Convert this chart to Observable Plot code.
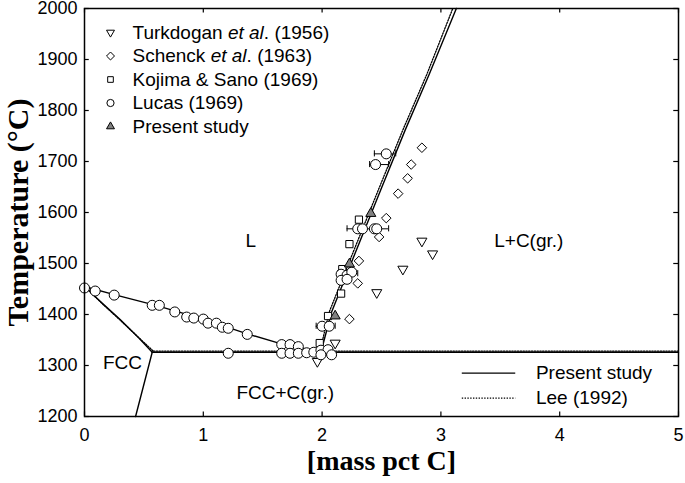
<!DOCTYPE html>
<html>
<head>
<meta charset="utf-8">
<script src="https://cdn.jsdelivr.net/npm/d3@7"></script>
<script src="https://cdn.jsdelivr.net/npm/@observablehq/plot@0.6"></script>
<style>
  html, body { margin: 0; padding: 0; background: white; }
</style>
</head>
<body>
<div id="chart"></div>
<script>
// ---------- ticks ----------
const xTicks = [0, 1, 2, 3, 4, 5];
const yTicks = [1200, 1300, 1400, 1500, 1600, 1700, 1800, 1900, 2000];

// ---------- phase boundaries (Present study, solid) ----------
const liqLeftX = [0, 0.25, 0.6, 1.0, 1.37, 1.65, 1.99];
const liqLeftT = [1455, 1439, 1418, 1391, 1362, 1343, 1326];
const liqRightX = [1.99, 2.08, 2.3, 2.5, 2.7, 2.9, 3.13];
const liqRightT = [1326, 1405, 1533, 1648, 1762, 1870, 2000];
const solidusX = [0, 0.15, 0.3, 0.45, 0.57];
const solidusT = [1455, 1422, 1390, 1356, 1326];
const solvusX = [0.57, 0.43];
const solvusT = [1326, 1200];
const eutX = [0.57, 5];
const eutT = [1326, 1326];

// ---------- Lee (1992), dotted ----------
const leeLiqRightX = [1.98, 2.06, 2.28, 2.48, 2.68, 2.88, 3.10];
const leeLiqRightT = [1326, 1405, 1533, 1648, 1762, 1870, 2000];
const leeSolidusX = [0, 0.15, 0.3, 0.45, 0.58];
const leeSolidusT = [1455, 1421, 1389, 1356, 1328];
const leeEutX = [0.58, 5];
const leeEutT = [1328, 1328];

// ---------- experimental data ----------
const turkX = [2.84, 2.93, 2.68, 2.46, 2.11, 1.96];
const turkT = [1544, 1519, 1489, 1443, 1344, 1308];
const schenckX = [2.84, 2.75, 2.72, 2.64, 2.54, 2.48, 2.31, 2.30, 2.23];
const schenckT = [1727, 1694, 1667, 1637, 1589, 1552, 1505, 1461, 1391];
const kojimaX = [2.31, 2.23, 2.17, 2.16, 2.05, 1.98];
const kojimaT = [1586, 1538, 1489, 1441, 1397, 1344];
const lucasX = [0, 0.09, 0.25, 0.57, 0.63, 0.76, 0.86, 0.92, 1.0, 1.04, 1.11, 1.16, 1.21, 1.37, 1.66, 1.73, 1.80,
                1.21, 1.66, 1.73, 1.80, 1.87, 1.93, 1.99, 2.05, 2.08, 1.99,
                2.0, 2.06, 2.16, 2.21, 2.25, 2.16, 2.21, 2.30, 2.34, 2.44, 2.46, 2.45, 2.54];
const lucasT = [1452, 1446, 1438, 1418, 1418, 1405, 1395, 1393, 1391, 1383, 1383, 1375, 1373, 1361, 1341, 1341, 1337,
                1324, 1324, 1324, 1324, 1325, 1326, 1330, 1331, 1321, 1321,
                1377, 1377, 1479, 1477, 1483, 1467, 1469, 1568, 1568, 1568, 1568, 1694, 1715];
const errT = [1715, 1694, 1568, 1480, 1377];
const errLo = [2.44, 2.40, 2.21, 2.13, 1.95];
const errHi = [2.62, 2.56, 2.56, 2.30, 2.11];
const presentX = [2.41, 2.23, 2.11];
const presentT = [1598, 1499, 1397];

// ---------- text ----------
const legendNames = ["Turkdogan et al. (1956)", "Schenck et al. (1963)", "Kojima & Sano (1969)", "Lucas (1969)", "Present study"];
const lineLegendNames = ["Present study", "Lee (1992)"];
const regionNames = ["L", "L+C(gr.)", "FCC", "FCC+C(gr.)"];
const regionX = [1.40, 3.74, 0.32, 1.69];
const regionT = [1544, 1544, 1306, 1246];
const xTitle = "[mass pct C]";
const yTitle = "Temperature (\u00B0C)";

const zip = (xs, ts) => xs.map((x, i) => ({x, t: ts[i]}));

// ---------- styles ----------
const SANS = "Liberation Sans, Arial, sans-serif";
const SERIF = "Liberation Serif, Times New Roman, serif";
const lineW = 1.4;
const dotDash = "1.4,1.4";
const grayFill = "#808080";

const seriesStyle = [
  {symbol: "triangle2", rotate: 180, fill: "white", r: 4.8, lr: 3.8},
  {symbol: "diamond2", rotate: 0, fill: "white", r: 4.3, lr: 3.6},
  {symbol: "square2", rotate: 0, fill: "white", r: 4.6, lr: 3.6},
  {symbol: "circle", rotate: 0, fill: "white", r: 5, lr: 3.6},
  {symbol: "triangle2", rotate: 0, fill: grayFill, r: 4.8, lr: 3.8}
];

const lineMark = (xs, ts, dotted) => Plot.line(zip(xs, ts), {
  x: "x", y: "t", stroke: "black", strokeWidth: dotted ? 1.3 : lineW,
  strokeDasharray: dotted ? dotDash : null, curve: "linear"
});

const dots = (xs, ts, k) => Plot.dot(zip(xs, ts), {
  x: "x", y: "t", symbol: () => seriesStyle[k].symbol, r: seriesStyle[k].r,
  rotate: seriesStyle[k].rotate, fill: seriesStyle[k].fill, stroke: "black", strokeWidth: 1
});

const legendMarks = [];
legendNames.forEach((name, i) => {
  const s = seriesStyle[i];
  legendMarks.push(Plot.dot([0], {
    frameAnchor: "top-left", dx: 26, dy: 24 + i * 23.5,
    symbol: () => s.symbol, r: s.lr, rotate: s.rotate, fill: s.fill, stroke: "black", strokeWidth: 1
  }));
  legendMarks.push(Plot.text([name], {
    frameAnchor: "top-left", dx: 48, dy: 24 + i * 23.5,
    textAnchor: "start", lineAnchor: "middle", fontSize: 19, fontFamily: SANS, fill: "black"
  }));
});

// line legend (bottom right)
const lineLegY = [1285, 1236];
const lineLegend = [
  Plot.ruleY([lineLegY[0]], {x1: 3.18, x2: 3.63, y: d => d, stroke: "black", strokeWidth: lineW}),
  Plot.ruleY([lineLegY[1]], {x1: 3.18, x2: 3.63, y: d => d, stroke: "black", strokeWidth: 1.3, strokeDasharray: dotDash}),
  Plot.text(lineLegendNames, {x: 3.80, y: (d, i) => lineLegY[i], textAnchor: "start", fontSize: 19, fontFamily: SANS, fill: "black"})
];

const plot = Plot.plot({
  width: 685, height: 483,
  marginLeft: 84, marginRight: 7, marginTop: 8, marginBottom: 67,
  x: {domain: [0, 5]},
  y: {domain: [1200, 2000]},
  style: {fontFamily: SANS, fontSize: "18px", background: "white", color: "black"},
  marks: [
    // inward ticks on all four sides
    Plot.ruleX(xTicks, {x: d => d, y1: 1200, y2: 1209, stroke: "black", strokeWidth: 1.2}),
    Plot.ruleX(xTicks, {x: d => d, y1: 2000, y2: 1991, stroke: "black", strokeWidth: 1.2}),
    Plot.ruleY(yTicks, {y: d => d, x1: 0, x2: 0.04, stroke: "black", strokeWidth: 1.2}),
    Plot.ruleY(yTicks, {y: d => d, x1: 4.96, x2: 5, stroke: "black", strokeWidth: 1.2}),
    Plot.axisX({ticks: xTicks, tickSize: 0, tickPadding: 12, label: null, tickFormat: d3.format("d"), fontSize: 18}),
    Plot.axisY({ticks: yTicks, tickSize: 0, tickPadding: 7, label: null, tickFormat: d3.format("d"), fontSize: 18}),
    // Lee (1992)
    lineMark(leeLiqRightX, leeLiqRightT, true),
    lineMark(leeSolidusX, leeSolidusT, true),
    lineMark(leeEutX, leeEutT, true),
    // Present study
    lineMark(liqLeftX, liqLeftT, false),
    lineMark(liqRightX, liqRightT, false),
    lineMark(solidusX, solidusT, false),
    lineMark(solvusX, solvusT, false),
    lineMark(eutX, eutT, false),
    // error bars (Lucas)
    Plot.ruleY(errT.map((t, i) => ({t, lo: errLo[i], hi: errHi[i]})), {y: "t", x1: "lo", x2: "hi", stroke: "black", strokeWidth: 1}),
    Plot.ruleX(errT.map((t, i) => ({t, x: errLo[i]})), {x: "x", y1: d => d.t - 6, y2: d => d.t + 6, stroke: "black", strokeWidth: 1}),
    Plot.ruleX(errT.map((t, i) => ({t, x: errHi[i]})), {x: "x", y1: d => d.t - 6, y2: d => d.t + 6, stroke: "black", strokeWidth: 1}),
    // data
    dots(turkX, turkT, 0),
    dots(schenckX, schenckT, 1),
    dots(kojimaX, kojimaT, 2),
    dots(lucasX, lucasT, 3),
    dots(presentX, presentT, 4),
    // region labels
    Plot.text(regionNames, {x: (d, i) => regionX[i], y: (d, i) => regionT[i], fontSize: 19, fontFamily: SANS, fill: "black"}),
    // legends
    ...legendMarks,
    ...lineLegend,
    // axis titles
    Plot.text([xTitle], {frameAnchor: "bottom", dy: 53, textAnchor: "middle", fontSize: 28, fontWeight: "bold", fontFamily: SERIF, fill: "black"}),
    Plot.text([yTitle], {frameAnchor: "left", dx: -66, textAnchor: "middle", lineAnchor: "middle", rotate: -90, fontSize: 30, fontWeight: "bold", fontFamily: SERIF, fill: "black"}),
    Plot.frame({stroke: "black", strokeWidth: 1.5})
  ]
});

// italicize "et al" in legend entries
d3.select(plot).selectAll("text").each(function () {
  const t = this.textContent;
  const m = t.match(/^(.*?)(et al)(\..*)$/);
  if (m && this.childElementCount === 0) {
    const sel = d3.select(this);
    sel.text(null);
    sel.append("tspan").text(m[1]);
    sel.append("tspan").attr("font-style", "italic").text(m[2]);
    sel.append("tspan").text(m[3]);
  }
});

document.getElementById("chart").appendChild(plot);
</script>
</body>
</html>
